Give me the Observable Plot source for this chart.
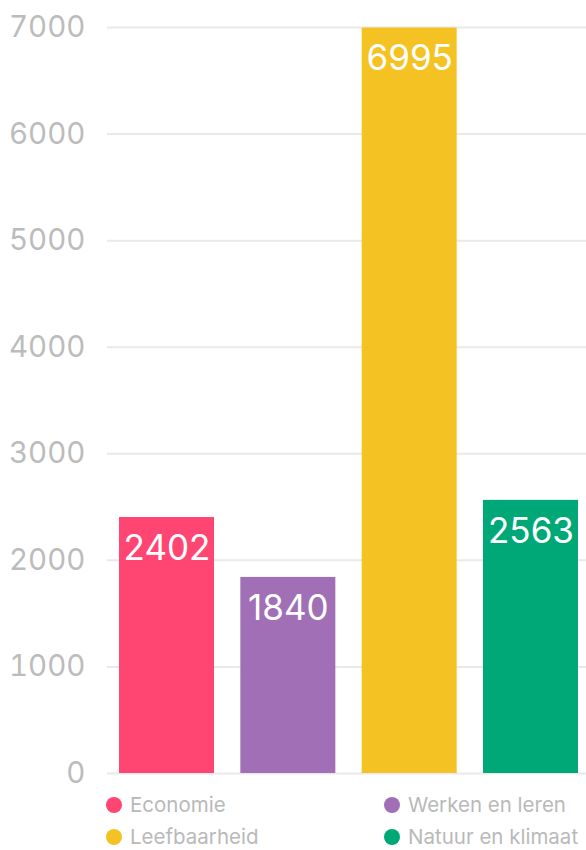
<!DOCTYPE html>
<html><head><meta charset="utf-8">
<script src="https://cdn.jsdelivr.net/npm/d3@7"></script>
<script src="https://cdn.jsdelivr.net/npm/@observablehq/plot@0.6"></script>
<style>
html,body{margin:0;padding:0;background:#fff;overflow:hidden;width:586px;height:850px;}
#chart{width:590px;}
#chart svg{display:block;max-width:none !important;}
.legend{display:grid;grid-template-columns:278px 278px;row-gap:12px;padding-top:5px;padding-left:106px;font-family:Inter,"Noto Sans",sans-serif;font-size:20.5px;color:#b9b9b9;line-height:20px;white-space:nowrap;}
.legend span.dot{display:inline-block;width:16px;height:16px;border-radius:50%;margin-right:8px;vertical-align:-1px;}
</style></head>
<body>
<div id="chart"></div>
<script>
const categories = ["Economie", "Werken en leren", "Leefbaarheid", "Natuur en klimaat"];
const values = [2402, 1840, 6995, 2563];
const colors = ["#ff4571", "#a06fb6", "#f5c223", "#00a877"];
const yTicks = [0, 1000, 2000, 3000, 4000, 5000, 6000, 7000];
const legendOrder = ["Economie", "Werken en leren", "Leefbaarheid", "Natuur en klimaat"];

const data = categories.map((c, i) => ({category: c, value: values[i]}));

const plot = Plot.plot({
  width: 590,
  height: 790,
  marginLeft: 107,
  marginRight: 0,
  marginTop: 27,
  marginBottom: 17,
  style: {fontFamily: "Inter, 'Noto Sans', sans-serif", background: "#fff", overflow: "visible", maxWidth: "none"},
  x: {domain: categories, paddingInner: 0.217, paddingOuter: 0.099, round: false, axis: null},
  y: {domain: [0, 7000], ticks: yTicks, grid: false, label: null},
  color: {domain: categories, range: colors},
  marks: [
    Plot.ruleY(yTicks, {stroke: "#e9e9e9", strokeWidth: 2}),
    Plot.axisY(yTicks, {tickSize: 0, tickPadding: 22, fontSize: 29.5, fill: "#bcbcbc", label: null, tickFormat: d => String(d)}),
    Plot.barY(data, {x: "category", y: "value", fill: "category"}),
    Plot.text(data, {x: "category", y: "value", text: d => String(d.value), fill: "white", fontSize: 35, dy: 31})
  ]
});
document.getElementById("chart").appendChild(plot);

const leg = document.createElement("div");
leg.className = "legend";
legendOrder.forEach((name) => {
  const i = categories.indexOf(name);
  const item = document.createElement("div");
  const dot = document.createElement("span");
  dot.className = "dot";
  dot.style.background = colors[i];
  item.appendChild(dot);
  item.appendChild(document.createTextNode(name));
  leg.appendChild(item);
});
document.getElementById("chart").appendChild(leg);
</script>
</body></html>
